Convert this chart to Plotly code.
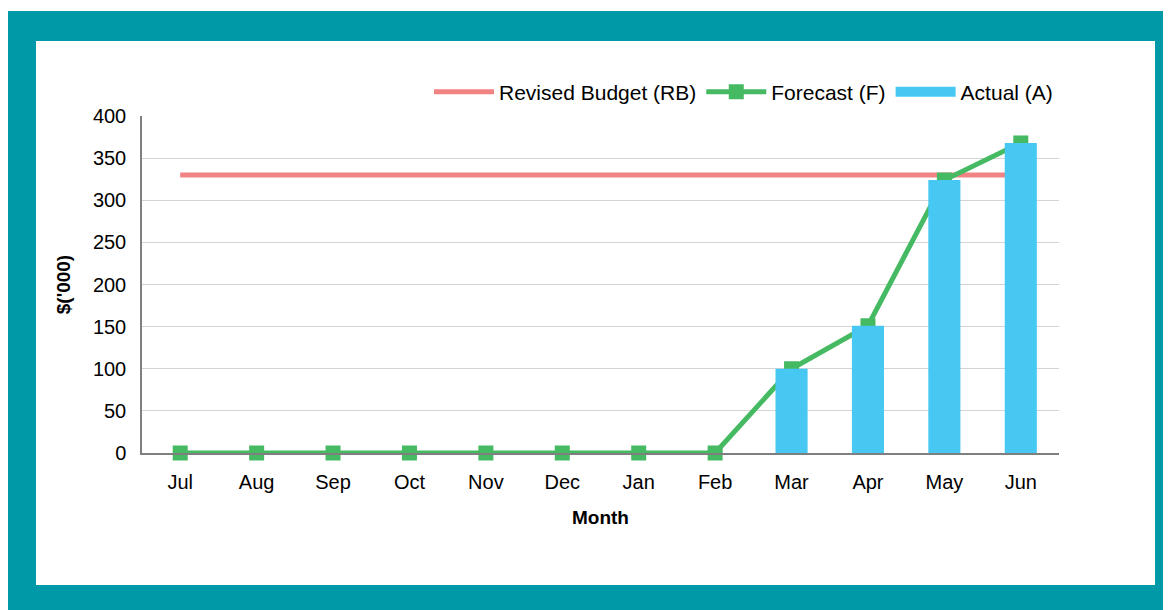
import plotly.graph_objects as go

# ---- data ----
months = ["Jul", "Aug", "Sep", "Oct", "Nov", "Dec", "Jan", "Feb", "Mar", "Apr", "May", "Jun"]
revised_budget = [330, 330, 330, 330, 330, 330, 330, 330, 330, 330, 330, 330]
forecast = [0, 0, 0, 0, 0, 0, 0, 0, 100, 151, 324, 368]
actual = [0, 0, 0, 0, 0, 0, 0, 0, 100, 151, 324, 368]
y_ticks = [0, 50, 100, 150, 200, 250, 300, 350, 400]

# ---- layout geometry (screen pixels; page body has an 8px margin) ----
OFF = 8
W, H = 1171, 610
L, R, T, B = 142 - OFF, 1059 - OFF, 116 - OFF, 453 - OFF
pw, ph = R - L, B - T


def px(x):
    return (x - OFF - L) / pw


def py(y):
    return (B - (y - OFF)) / ph


RED = "#F28383"
GREEN = "#45BA62"
BLUE = "#47C8F3"
TEAL = "#0099A8"
FONT = "Liberation Sans, Arial, sans-serif"
FS = 20

fig = go.Figure()

fig.add_trace(go.Scatter(
    x=months, y=revised_budget, name="Revised Budget (RB)", mode="lines",
    line=dict(color=RED, width=5), xaxis="x", yaxis="y"))

fig.add_trace(go.Scatter(
    x=months, y=forecast, name="Forecast (F)", mode="lines+markers",
    line=dict(color=GREEN, width=5),
    marker=dict(symbol="square", size=15, color=GREEN),
    cliponaxis=False, xaxis="x", yaxis="y"))

# bars on an overlaid subplot so they are drawn above the lines
fig.add_trace(go.Bar(
    x=months, y=actual, name="Actual (A)", width=0.42,
    marker=dict(color=BLUE, line=dict(width=0)),
    xaxis="x2", yaxis="y2", showlegend=False, legendgroup="actual"))

# legend key for the bars (wide block, as in the reference)
fig.add_trace(go.Scatter(
    x=[None], y=[None], name="Actual (A)", mode="lines",
    line=dict(color=BLUE, width=12), legendgroup="actual",
    xaxis="x2", yaxis="y2", hoverinfo="skip"))

axis_font = dict(family=FONT, size=FS, color="#000000")
title_font = dict(family=FONT, size=19, color="#000000")

fig.update_layout(
    width=W, height=H,
    margin=dict(l=L, r=W - R, t=T, b=H - B, autoexpand=False),
    paper_bgcolor="white",
    plot_bgcolor="rgba(0,0,0,0)",
    font=dict(family=FONT, size=FS, color="#000000"),
    showlegend=True,
    legend=dict(
        orientation="h", x=px(1058), xanchor="right", y=py(92), yanchor="middle",
        font=dict(family=FONT, size=21, color="#000000"),
        bgcolor="rgba(0,0,0,0)", traceorder="normal", itemwidth=60,
    ),
    xaxis=dict(
        type="category", categoryorder="array", categoryarray=months,
        range=[-0.5, 11.5], showgrid=False, zeroline=False,
        showline=True, linecolor="#7F7F7F", linewidth=2,
        ticks="", tickfont=axis_font, ticklabelstandoff=10,
        title=dict(text="<b>Month</b>", font=title_font, standoff=19),
        fixedrange=True,
    ),
    yaxis=dict(
        range=[0, 400], tickvals=y_ticks, showgrid=True, gridcolor="#D4D4D4", gridwidth=1,
        zeroline=False, showline=True, linecolor="#7F7F7F", linewidth=1.5,
        ticks="", tickfont=axis_font, ticklabelstandoff=10,
        title=dict(text="<b>$('000)</b>", font=title_font, standoff=17),
        fixedrange=True,
    ),
    xaxis2=dict(
        type="category", categoryorder="array", categoryarray=months,
        range=[-0.5, 11.5], overlaying="x", visible=False, fixedrange=True,
    ),
    yaxis2=dict(range=[0, 400], overlaying="y", visible=False, fixedrange=True),
    shapes=[
        dict(type="rect", xref="paper", yref="paper", layer="below",
             x0=px(6), x1=px(W + 20), y0=py(H + 20), y1=py(11),
             fillcolor=TEAL, line=dict(width=0)),
        dict(type="rect", xref="paper", yref="paper", layer="below",
             x0=px(36), x1=px(1155), y0=py(585), y1=py(41),
             fillcolor="white", line=dict(width=0)),
    ],
)

fig.write_html("out.html")
